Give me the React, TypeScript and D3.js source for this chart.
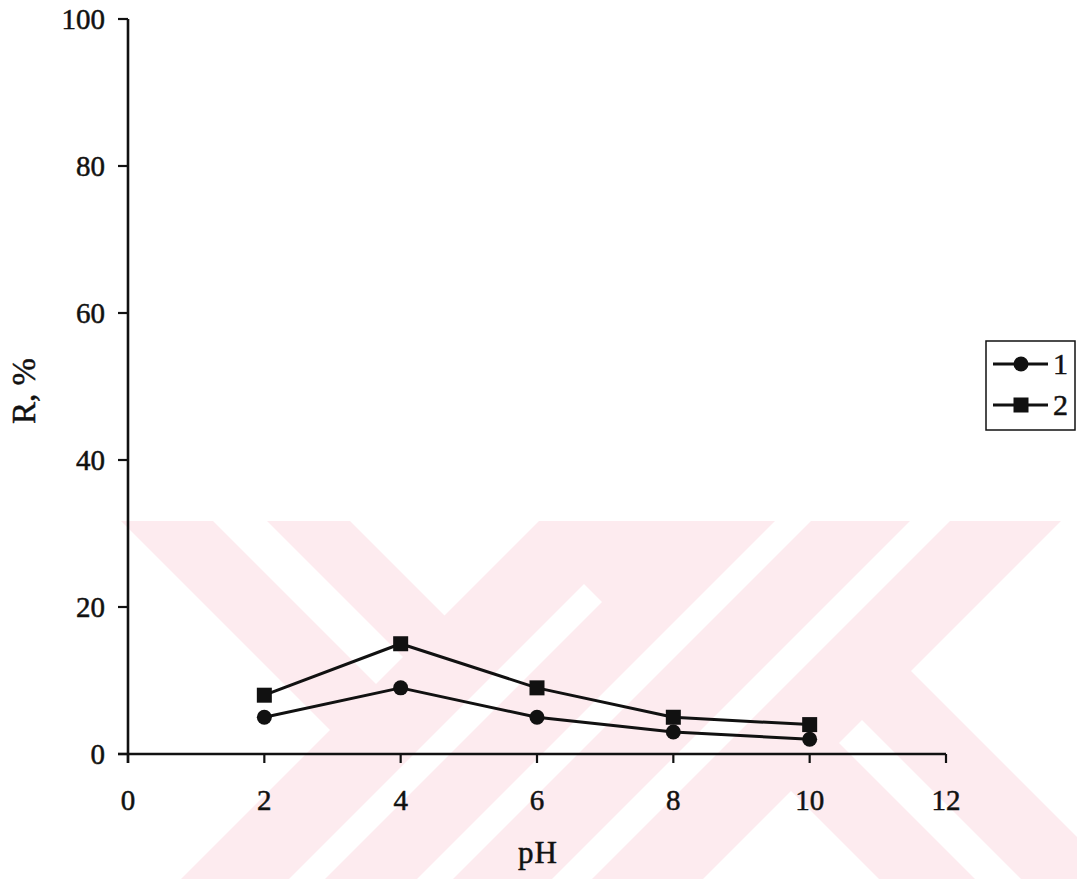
import React from "react";
import * as d3 from "d3";

// pH values and recovery R (%) for the two curves
const phValues = [2, 4, 6, 8, 10];
const series1 = [5, 9, 5, 3, 2];
const series2 = [8, 15, 9, 5, 4];
const seriesNames = ["1", "2"];

const xTickValues = [0, 2, 4, 6, 8, 10, 12];
const yTickValues = [0, 20, 40, 60, 80, 100];

const WIDTH = 1077;
const HEIGHT = 879;
const FONT = "'Liberation Serif', 'Times New Roman', serif";

// Background stamp: a pink field with white cut-outs, each cut given as
// ranges of c = x - y and s = x + y (45 degree bands).
const STAMP = { left: 118, right: 1077, top: 521, bottom: 879, fill: "#fdebef" };
const BIG = 4000;
const stampCuts: [number, number, number, number][] = [
  [-BIG, -400, -BIG, 1060],
  [-308, -254, -BIG, 1060],
  [-171, BIG, -BIG, 1060],
  [-BIG, 0, 1168, 1204],
  [-BIG, BIG, 1296, 1332],
  [-BIG, BIG, 1431, 1471],
  [96, 142, 1582, BIG],
  [240, BIG, 1582, BIG],
  [-BIG, 0, 1582, BIG],
];

function cutPolygon([c0, c1, s0, s1]: [number, number, number, number]) {
  const pts: [number, number][] = [
    [c0, s0],
    [c0, s1],
    [c1, s1],
    [c1, s0],
  ];
  return pts.map(([c, s]) => `${(s + c) / 2},${(s - c) / 2}`).join(" ");
}

export default function App() {
  const x = d3.scaleLinear().domain([0, 12]).range([128, 946]);
  const y = d3.scaleLinear().domain([0, 100]).range([754, 19]);

  const line = d3
    .line<number>()
    .x((_, i) => x(phValues[i]))
    .y((d) => y(d));

  const ink = "#111";
  const lineW = 3;
  const textProps = { fill: ink, stroke: ink, strokeWidth: 0.5 };

  const circle = (cx: number, cy: number, key: string) => (
    <circle key={key} cx={cx} cy={cy} r={7.5} fill={ink} />
  );
  const square = (cx: number, cy: number, key: string) => (
    <rect key={key} x={cx - 7.5} y={cy - 7.5} width={15} height={15} fill={ink} />
  );
  const markers = [circle, square];
  const allSeries = [series1, series2];

  const legendX0 = 993;
  const legendX1 = 1048;
  const legendYs = [364, 405];

  return (
    <svg
      width={WIDTH}
      height={HEIGHT}
      style={{ position: "absolute", left: 0, top: 0, background: "#fff" }}
      fontFamily={FONT}
    >
      <defs>
        <clipPath id="stamp-clip">
          <rect
            x={STAMP.left}
            y={STAMP.top}
            width={STAMP.right - STAMP.left}
            height={STAMP.bottom - STAMP.top}
          />
        </clipPath>
      </defs>
      <rect width={WIDTH} height={HEIGHT} fill="#fff" />

      {/* background stamp */}
      <g clipPath="url(#stamp-clip)">
        <rect
          x={STAMP.left}
          y={STAMP.top}
          width={STAMP.right - STAMP.left}
          height={STAMP.bottom - STAMP.top}
          fill={STAMP.fill}
        />
        {stampCuts.map((cut, i) => (
          <polygon key={i} points={cutPolygon(cut)} fill="#fff" />
        ))}
      </g>

      {/* y axis */}
      <line x1={x(0)} x2={x(0)} y1={y(100)} y2={y(0) + 9} stroke={ink} strokeWidth={2.6} />
      {yTickValues.map((v) => (
        <g key={`yt${v}`}>
          <line x1={x(0) - 10} x2={x(0)} y1={y(v)} y2={y(v)} stroke={ink} strokeWidth={2.2} />
          <text x={105} y={y(v) + 9.5} textAnchor="end" fontSize={29} {...textProps}>
            {v}
          </text>
        </g>
      ))}

      {/* x axis */}
      <line x1={x(0) - 10} x2={x(12)} y1={y(0)} y2={y(0)} stroke={ink} strokeWidth={2.6} />
      {xTickValues.map((v) => (
        <g key={`xt${v}`}>
          <line x1={x(v)} x2={x(v)} y1={y(0)} y2={y(0) + 9} stroke={ink} strokeWidth={2.2} />
          <text x={x(v)} y={810} textAnchor="middle" fontSize={29} {...textProps}>
            {v}
          </text>
        </g>
      ))}

      {/* axis titles */}
      <text x={538} y={863} textAnchor="middle" fontSize={31} letterSpacing={1} {...textProps}>
        pH
      </text>
      <text
        transform="translate(35,391) rotate(-90)"
        textAnchor="middle"
        fontSize={33}
        {...textProps}
      >
        R, %
      </text>

      {/* data */}
      {allSeries.map((vals, si) => (
        <g key={`s${si}`}>
          <path d={line(vals) || ""} fill="none" stroke={ink} strokeWidth={lineW} strokeLinejoin="round" />
          {vals.map((v, i) => markers[si](x(phValues[i]), y(v), `m${si}-${i}`))}
        </g>
      ))}

      {/* legend */}
      <rect x={986} y={341} width={89} height={89} fill="#fff" stroke={ink} strokeWidth={1.5} />
      {seriesNames.map((name, si) => (
        <g key={`lg${si}`}>
          <line
            x1={legendX0}
            x2={legendX1}
            y1={legendYs[si]}
            y2={legendYs[si]}
            stroke={ink}
            strokeWidth={lineW}
          />
          {markers[si](1021, legendYs[si], `lm${si}`)}
          <text x={1053} y={legendYs[si] + 10} fontSize={30} {...textProps}>
            {name}
          </text>
        </g>
      ))}
    </svg>
  );
}
